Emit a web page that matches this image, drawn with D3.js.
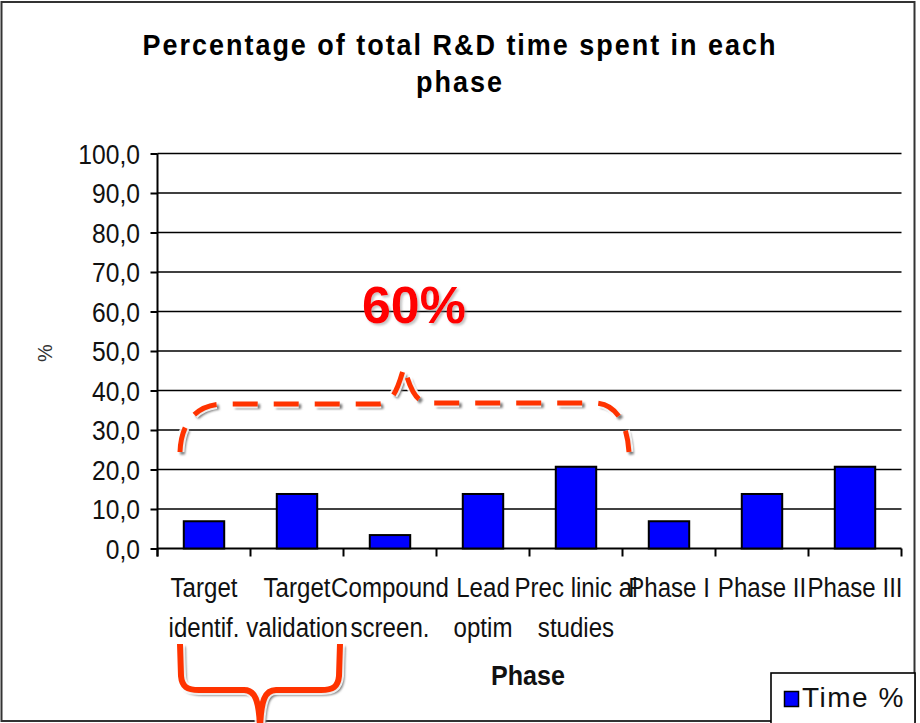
<!DOCTYPE html>
<html>
<head>
<meta charset="utf-8">
<script src="https://cdn.jsdelivr.net/npm/d3@7"></script>
<style>
  html, body { margin: 0; padding: 0; background: #fff; }
  svg { display: block; font-family: "Liberation Sans", Arial, sans-serif; }
</style>
</head>
<body>
<svg id="chart" width="920" height="723"></svg>
<script>
// Share of total R&D time per development phase
const phaseLines = [
  ["Target", "identif."],
  ["Target", "validation"],
  ["Compound", "screen."],
  ["Lead", "optim"],
  ["Prec linic al", "studies"],
  ["Phase I", ""],
  ["Phase II", ""],
  ["Phase III", ""]
];
const phases = phaseLines.map(d => d.join(" ").trim());
const timePct = [6.9, 13.8, 3.4, 13.8, 20.7, 6.9, 13.8, 20.7];
const yTicks = [0, 10, 20, 30, 40, 50, 60, 70, 80, 90, 100];

const titleLines = ["Percentage of total R&D time spent in each", "phase"];
const xTitle = "Phase";
const yTitle = "%";
const seriesName = "Time %";
const braceLabel = "60%";

const svg = d3.select("#chart");
const plot = { left: 157.5, right: 901.5, top: 153.5, bottom: 548.5 };

const x = d3.scaleBand().domain(phases).range([plot.left, plot.right]).padding(0);
const y = d3.scaleLinear().domain([0, 100]).range([plot.bottom, plot.top]);
const comma = d3.formatLocale({ decimal: ",", thousands: ".", grouping: [3], currency: ["", ""] }).format(".1f");

const defs = svg.append("defs");
defs.append("filter").attr("id", "soft").attr("x", "-20%").attr("y", "-20%").attr("width", "140%").attr("height", "140%")
  .append("feGaussianBlur").attr("stdDeviation", 1);
defs.append("filter").attr("id", "drop").attr("x", "-20%").attr("y", "-20%").attr("width", "140%").attr("height", "140%")
  .append("feDropShadow").attr("dx", 2).attr("dy", 2).attr("stdDeviation", 1)
  .attr("flood-color", "#888").attr("flood-opacity", 0.5);

// condensed text helper: glyphs narrowed horizontally around the anchor point
function label(parent, px, py, str, o) {
  const g = parent.append("g").attr("transform", `translate(${px},${py}) scale(${o.sx || 1},1)`);
  return g.append("text").attr("x", 0).attr("y", 0)
    .attr("text-anchor", o.anchor || "start")
    .attr("font-size", o.size)
    .attr("font-weight", o.bold ? "bold" : null)
    .attr("letter-spacing", o.ls || null)
    .attr("fill", o.fill || "#111")
    .text(str);
}

// outer frame
svg.append("rect").attr("x", 1.5).attr("y", 2).attr("width", 913).attr("height", 719)
  .attr("fill", "#fff").attr("stroke", "#333").attr("stroke-width", 2);

// title
titleLines.forEach((t, i) =>
  label(svg, 460, 55 + i * 37, t, { size: 30, sx: 0.9, bold: true, ls: 2.2, anchor: "middle", fill: "#000" }));

// gridlines
svg.append("g").selectAll("line").data(yTicks.filter(v => v > 0)).join("line")
  .attr("x1", plot.left).attr("x2", plot.right)
  .attr("y1", d => y(d)).attr("y2", d => y(d))
  .attr("stroke", "#000").attr("stroke-width", 1.6);

// y axis: ticks from d3, labels condensed
const yAxis = svg.append("g").attr("transform", `translate(${plot.left},0)`)
  .call(d3.axisLeft(y).tickValues(yTicks).tickFormat("").tickSize(7).tickSizeOuter(0));
yAxis.select(".domain").remove();
yAxis.selectAll(".tick line").attr("stroke", "#000").attr("stroke-width", 2);
const yl = svg.append("g");
yTicks.forEach(v => label(yl, 140, y(v) + 10, comma(v), { size: 28, sx: 0.88, anchor: "end" }));
svg.append("line").attr("x1", plot.left).attr("x2", plot.left)
  .attr("y1", plot.top).attr("y2", plot.bottom + 8).attr("stroke", "#000").attr("stroke-width", 2);

// x axis with ticks at category boundaries
svg.append("line").attr("x1", plot.left).attr("x2", plot.right)
  .attr("y1", plot.bottom).attr("y2", plot.bottom).attr("stroke", "#000").attr("stroke-width", 2);
const bounds = phases.map(p => x(p)).concat([x(phases[phases.length - 1]) + x.bandwidth()]);
svg.append("g").selectAll("line").data(bounds).join("line")
  .attr("x1", d => d).attr("x2", d => d).attr("y1", plot.bottom).attr("y2", plot.bottom + 8)
  .attr("stroke", "#000").attr("stroke-width", 2);

// category labels (two lines)
const xl = svg.append("g");
phaseLines.forEach((lines, i) => {
  const cx = x(phases[i]) + x.bandwidth() / 2;
  lines.forEach((t, j) => {
    if (t) label(xl, cx, 597 + j * 40, t, { size: 28, sx: 0.86, anchor: "middle" });
  });
});

// bars
const barW = x.bandwidth() / 2.3;
svg.append("g").selectAll("rect").data(timePct).join("rect")
  .attr("x", (d, i) => x(phases[i]) + (x.bandwidth() - barW) / 2)
  .attr("y", d => y(d))
  .attr("width", barW)
  .attr("height", d => y(0) - y(d))
  .attr("fill", "#0000ff").attr("stroke", "#000").attr("stroke-width", 2);

// axis titles
label(svg, 528, 685, xTitle, { size: 27, sx: 0.93, bold: true, anchor: "middle" });
svg.append("text").attr("transform", "translate(52,353) rotate(-90)").attr("text-anchor", "middle")
  .attr("font-size", 20).attr("fill", "#333").text(yTitle);

// legend
const lg = svg.append("g");
lg.append("rect").attr("x", 771).attr("y", 673).attr("width", 144).attr("height", 52)
  .attr("fill", "#fff").attr("stroke", "#000").attr("stroke-width", 1.6);
lg.append("rect").attr("x", 784.5).attr("y", 691.5).attr("width", 14).attr("height", 15)
  .attr("fill", "#0000ff").attr("stroke", "#000").attr("stroke-width", 1.5);
label(lg, 802, 707, seriesName, { size: 28, ls: 1.5 });

// brace annotations over the research phases
function drawStroke(d, opts) {
  const g = svg.append("g");
  g.append("path").attr("d", d).attr("fill", "none").attr("stroke", "#7a7a7a")
    .attr("stroke-width", opts.w).attr("transform", "translate(2.5,2.5)")
    .attr("stroke-dasharray", opts.dash || null).attr("filter", "url(#soft)");
  g.append("path").attr("d", d).attr("fill", "none").attr("stroke", "#fff")
    .attr("stroke-width", opts.w + 4).attr("stroke-opacity", 0.85)
    .attr("stroke-dasharray", opts.dash || null);
  g.append("path").attr("d", d).attr("fill", "none").attr("stroke", "#ff3300")
    .attr("stroke-width", opts.w).attr("stroke-dasharray", opts.dash || null);
}

const topBrace = "M180,452 C181,423 196,404 224,404 L378,404 C393,404 398,388 404,367 " +
                 "C410,388 415,403 430,403 L594,403 C614,403 627,420 629,452";
drawStroke(topBrace, { w: 5, dash: "25 16" });

const lowBrace = "M180,644 L181,676 C182,687 187,690 199,690 L244,690 C255,690 259,700 260,728 " +
                 "M340,644 L339,676 C338,687 333,690 321,690 L276,690 C265,690 261,700 260,728";
drawStroke(lowBrace, { w: 6 });

// label for the bracketed share
svg.append("text").attr("x", 414).attr("y", 323).attr("text-anchor", "middle")
  .attr("font-size", 52).attr("font-weight", "bold").attr("fill", "#ff0000")
  .attr("filter", "url(#drop)").text(braceLabel);
</script>
</body>
</html>
